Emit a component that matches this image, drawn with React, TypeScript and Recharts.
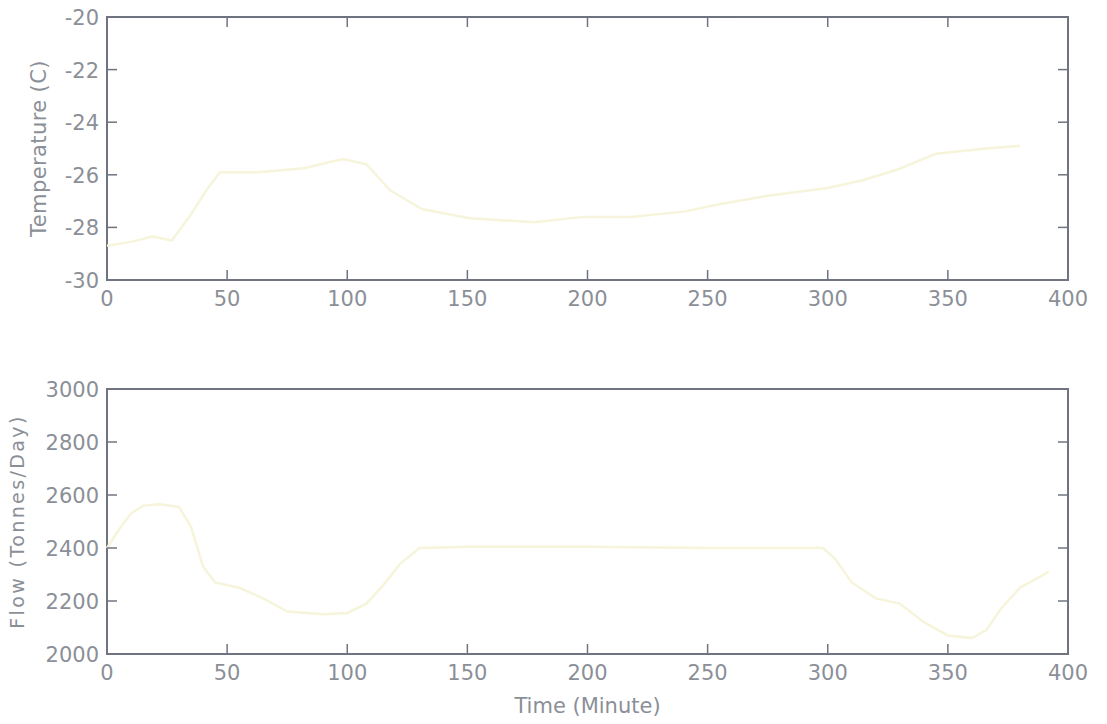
import React from "react";
import { Line, LineChart, ReferenceArea, XAxis, YAxis } from "recharts";

// time axis (minutes)
const timeTicks = [0, 50, 100, 150, 200, 250, 300, 350, 400];

// temperature panel
const tempTicks = [-30, -28, -26, -24, -22, -20];
const tempTimes = [0, 10, 19, 27, 35, 42, 47, 63, 82, 98, 108, 118, 131, 151, 178, 198, 218, 240, 256, 275, 300, 315, 329, 345, 366, 380];
const tempValues = [-28.7, -28.55, -28.35, -28.5, -27.5, -26.5, -25.9, -25.9, -25.75, -25.4, -25.6, -26.6, -27.3, -27.65, -27.8, -27.6, -27.6, -27.4, -27.1, -26.8, -26.5, -26.2, -25.8, -25.2, -25.0, -24.9];
const limitTimes = [0, 100, 200, 250, 270, 300, 330, 350, 400];
const limitValues = [-20, -20, -20, -20, -19.95, -19.92, -19.95, -20, -20];

// flow panel
const flowTicks = [2000, 2200, 2400, 2600, 2800, 3000];
const flowTimes = [0, 5, 10, 15, 22, 30, 35, 40, 45, 55, 65, 75, 90, 100, 108, 115, 122, 130, 150, 200, 250, 298, 303, 310, 320, 330, 340, 350, 360, 366, 372, 380, 392];
const flowValues = [2400, 2470, 2530, 2560, 2565, 2555, 2480, 2330, 2270, 2250, 2210, 2160, 2150, 2155, 2190, 2260, 2340, 2400, 2405, 2405, 2400, 2400, 2360, 2270, 2210, 2190, 2120, 2070, 2060, 2090, 2170, 2250, 2310];

const tempData = tempTimes.map((t, i) => ({ t, v: tempValues[i] }));
const limitData = limitTimes.map((t, i) => ({ t, v: limitValues[i] }));
const flowData = flowTimes.map((t, i) => ({ t, v: flowValues[i] }));

const AXIS = "#6f7480";
const TEXT = "#8b8f97";
const TRACE = "#f6f4da";
const FONT = "'DejaVu Sans', sans-serif";

const PLOT_LEFT = 107;
const PLOT_RIGHT = 1068;

function xTick(plotTop: number, labelDy: number) {
  return (props: any) => {
    const { x, y, payload } = props;
    return (
      <g>
        <line x1={x} y1={y} x2={x} y2={y - 10} stroke={AXIS} strokeWidth={1.5} />
        <line x1={x} y1={plotTop} x2={x} y2={plotTop + 10} stroke={AXIS} strokeWidth={1.5} />
        <text x={x} y={y + labelDy} textAnchor="middle" fill={TEXT} fontSize={21} fontFamily={FONT}>
          {payload.value}
        </text>
      </g>
    );
  };
}

function yTick(props: any) {
  const { x, y, payload } = props;
  return (
    <g>
      <line x1={x} y1={y} x2={x + 10} y2={y} stroke={AXIS} strokeWidth={1.5} />
      <line x1={PLOT_RIGHT - 10} y1={y} x2={PLOT_RIGHT} y2={y} stroke={AXIS} strokeWidth={1.5} />
      <text x={x - 8} y={y + 8} textAnchor="end" fill={TEXT} fontSize={21} fontFamily={FONT}>
        {payload.value}
      </text>
    </g>
  );
}

function yTitle(text: string, baselineX: number, fontSize: number, spacing: number) {
  return (props: any) => {
    const vb = props.viewBox;
    const cy = vb.y + vb.height / 2;
    return (
      <text
        x={baselineX}
        y={cy}
        transform={`rotate(-90 ${baselineX} ${cy})`}
        textAnchor="middle"
        fill={TEXT}
        fontSize={fontSize}
        letterSpacing={spacing}
        fontFamily={FONT}
      >
        {text}
      </text>
    );
  };
}

function xTitle(props: any) {
  const vb = props.viewBox;
  return (
    <text x={vb.x + vb.width / 2} y={vb.y + 59} textAnchor="middle" fill={TEXT} fontSize={21} fontFamily={FONT}>
      Time (Minute)
    </text>
  );
}

export default function App() {
  return (
    <div style={{ position: "absolute", left: 0, top: 0, width: 1107, height: 724, background: "#fff" }}>
      <LineChart width={1107} height={340} margin={{ top: 17, right: 1107 - PLOT_RIGHT, bottom: 0, left: 0 }}>
        <XAxis
          dataKey="t"
          type="number"
          domain={[0, 400]}
          ticks={timeTicks}
          interval={0}
          height={60}
          axisLine={false}
          tickLine={false}
          tickSize={0}
          tickMargin={0}
          tick={xTick(17, 26)}
        />
        <YAxis
          dataKey="v"
          type="number"
          domain={[-30, -20]}
          allowDataOverflow
          ticks={tempTicks}
          interval={0}
          width={PLOT_LEFT}
          axisLine={false}
          tickLine={false}
          tickSize={0}
          tickMargin={0}
          tick={yTick}
          label={{ content: yTitle("Temperature (C)", 46, 21, 0.4) }}
        />
        <ReferenceArea x1={0} x2={400} y1={-30} y2={-20} fill="none" stroke={AXIS} strokeWidth={2} />
        <Line data={tempData} dataKey="v" type="linear" stroke={TRACE} strokeWidth={2.5} dot={false} isAnimationActive={false} />
        <Line data={limitData} dataKey="v" type="linear" stroke="#6a7080" strokeWidth={2} dot={false} isAnimationActive={false} />
      </LineChart>
      <LineChart width={1107} height={384} margin={{ top: 49, right: 1107 - PLOT_RIGHT, bottom: 0, left: 0 }}>
        <XAxis
          dataKey="t"
          type="number"
          domain={[0, 400]}
          ticks={timeTicks}
          interval={0}
          height={70}
          axisLine={false}
          tickLine={false}
          tickSize={0}
          tickMargin={0}
          tick={xTick(389, 26)}
          label={{ content: xTitle }}
        />
        <YAxis
          dataKey="v"
          type="number"
          domain={[2000, 3000]}
          allowDataOverflow
          ticks={flowTicks}
          interval={0}
          width={PLOT_LEFT}
          axisLine={false}
          tickLine={false}
          tickSize={0}
          tickMargin={0}
          tick={yTick}
          label={{ content: yTitle("Flow (Tonnes/Day)", 24, 19, 2.4) }}
        />
        <ReferenceArea x1={0} x2={400} y1={2000} y2={3000} fill="none" stroke={AXIS} strokeWidth={2} />
        <Line data={flowData} dataKey="v" type="linear" stroke={TRACE} strokeWidth={2.5} dot={false} isAnimationActive={false} />
      </LineChart>
    </div>
  );
}
